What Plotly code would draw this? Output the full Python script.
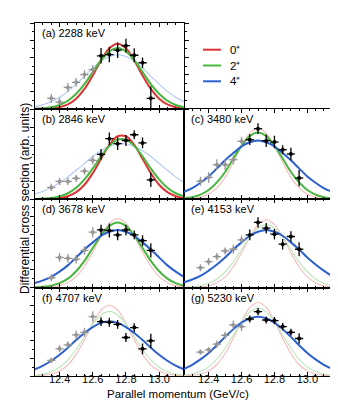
import plotly.graph_objects as go

# parallel momentum of the data bins (GeV/c)
p_data = [12.35, 12.40, 12.45, 12.50, 12.55, 12.60, 12.65,
          12.70, 12.75, 12.80, 12.85, 12.90, 12.95]
n_gray = 6  # first bins drawn in grey

# momentum grid of the calculated distributions
p_curve = [12.25, 12.30, 12.35, 12.40, 12.45, 12.50, 12.55, 12.60, 12.65, 12.70,
           12.75, 12.80, 12.85, 12.90, 12.95, 13.00, 13.05, 13.10, 13.15]

labels = ['(a) 2288 keV', '(b) 2846 keV', '(c) 3480 keV', '(d) 3678 keV',
          '(e) 4153 keV', '(f) 4707 keV', '(g) 5230 keV']
legend_names = ['0⁺', '2⁺', '4⁺']

# measured cross sections (arb. units) and errors
y_a = [0.124, 0.080, 0.251, 0.310, 0.400, 0.459, 0.618, 0.633, 0.684, 0.736, 0.625, 0.538, 0.124]
e_a = [0.05, 0.05, 0.05, 0.05, 0.05, 0.05, 0.09, 0.09, 0.09, 0.08, 0.08, 0.06, 0.14]
y_b = [0.129, 0.195, 0.195, 0.230, 0.310, 0.430, 0.495, 0.670, 0.615, 0.650, 0.714, 0.623, 0.212]
e_b = [0.04, 0.04, 0.04, 0.04, 0.04, 0.05, 0.06, 0.07, 0.07, 0.06, 0.05, 0.06, 0.08]
y_c = [0.197, 0.241, 0.381, 0.381, 0.437, 0.641, 0.659, 0.781, 0.648, 0.633, 0.548, 0.500, 0.233]
e_c = [0.05, 0.06, 0.06, 0.06, 0.05, 0.05, 0.06, 0.06, 0.07, 0.07, 0.05, 0.07, 0.09]
y_d = [0.110, 0.340, 0.330, 0.320, 0.420, 0.625, 0.650, 0.644, 0.594, 0.650, 0.594, 0.530, 0.420]
e_d = [0.04, 0.05, 0.05, 0.05, 0.05, 0.06, 0.06, 0.08, 0.06, 0.06, 0.05, 0.06, 0.08]
y_e = [0.224, 0.292, 0.349, 0.413, 0.432, 0.538, 0.594, 0.735, 0.670, 0.602, 0.489, 0.576, 0.432]
e_e = [0.04, 0.04, 0.04, 0.04, 0.05, 0.05, 0.06, 0.06, 0.06, 0.06, 0.06, 0.06, 0.08]
y_f = [0.176, 0.307, 0.352, 0.464, 0.494, 0.671, 0.615, 0.607, 0.584, 0.435, 0.547, 0.307, 0.397]
e_f = [0.03, 0.04, 0.04, 0.05, 0.05, 0.06, 0.05, 0.05, 0.05, 0.05, 0.05, 0.06, 0.08]
y_g = [0.270, 0.296, 0.360, 0.460, 0.576, 0.558, 0.644, 0.727, 0.633, 0.626, 0.558, 0.494, 0.424]
e_g = [0.03, 0.03, 0.04, 0.04, 0.05, 0.05, 0.04, 0.04, 0.04, 0.04, 0.04, 0.04, 0.06]

# calculated distributions for 0+, 2+, 4+
l0_a = [0, .002, .007, .02, .053, .12, .233, .39, .565, .707, .76, .707, .565, .39, .233, .12, .053, .02, .007]
l2_a = [.003, .008, .02, .047, .096, .178, .29, .43, .568, .67, .71, .67, .568, .43, .29, .178, .096, .047, .02]
l4_a = [.028, .05, .085, .136, .205, .289, .382, .476, .556, .61, .63, .61, .556, .476, .382, .289, .205, .136, .085]

l0_b = [0, .001, .004, .011, .031, .076, .158, .287, .447, .601, .697, .697, .601, .447, .287, .158, .076, .031, .011]
l2_b = [.001, .005, .012, .029, .064, .125, .218, .339, .474, .59, .66, .66, .59, .474, .339, .218, .125, .064, .029]
l4_b = [.056, .087, .129, .181, .246, .319, .396, .472, .537, .585, .612, .612, .585, .537, .472, .396, .319, .246, .181]

l0_c = [.002, .007, .02, .055, .124, .24, .41, .59, .73, .79, .73, .59, .41, .24, .124, .055, .02, .007, .002]
l2_c = [.008, .021, .049, .10, .185, .30, .45, .59, .70, .74, .70, .59, .45, .30, .185, .10, .049, .021, .008]
l4_c = [.08, .12, .18, .25, .34, .43, .51, .585, .63, .65, .63, .585, .51, .43, .34, .25, .18, .12, .08]

l0_d = [0, .002, .007, .021, .055, .122, .24, .40, .58, .725, .78, .725, .58, .40, .24, .122, .055, .021, .007]
l2_d = [.003, .008, .021, .049, .10, .184, .30, .446, .588, .695, .735, .695, .588, .446, .30, .184, .10, .049, .021]
l4_d = [.05, .08, .12, .18, .25, .34, .43, .51, .585, .63, .65, .63, .585, .51, .43, .34, .25, .18, .12]

l0_e = [0, .002, .007, .02, .054, .12, .234, .393, .57, .71, .765, .71, .57, .393, .234, .12, .054, .02, .007]
l2_e = [.003, .008, .02, .047, .096, .178, .29, .43, .57, .67, .71, .67, .57, .43, .29, .178, .096, .047, .02]
l4_e = [.06, .09, .13, .19, .26, .34, .43, .51, .585, .63, .65, .63, .585, .51, .43, .34, .26, .19, .13]

l0_f = [.002, .007, .022, .056, .126, .245, .41, .595, .745, .80, .745, .595, .41, .245, .126, .056, .022, .007, .002]
l2_f = [.008, .021, .048, .099, .183, .30, .443, .584, .69, .73, .69, .584, .443, .30, .183, .099, .048, .021, .008]
l4_f = [.074, .117, .172, .24, .32, .406, .486, .553, .60, .615, .60, .553, .486, .406, .32, .24, .172, .117, .074]

l0_g = [.002, .007, .022, .058, .13, .254, .427, .618, .772, .83, .772, .618, .427, .254, .13, .058, .022, .007, .002]
l2_g = [.008, .022, .05, .103, .191, .314, .464, .612, .724, .765, .724, .612, .464, .314, .191, .103, .05, .022, .008]
l4_g = [.08, .127, .188, .261, .348, .442, .529, .603, .653, .67, .653, .603, .529, .442, .348, .261, .188, .127, .08]

RED, GREEN, BLUE = 'rgb(218,52,52)', 'rgb(72,182,62)', 'rgb(44,96,206)'
RED_L, GREEN_L, BLUE_L = 'rgb(244,188,188)', 'rgb(190,232,186)', 'rgb(176,200,242)'
GREY = 'rgb(150,150,150)'
FONT = 'Liberation Sans, Arial, sans-serif'

# panel: data, errors, curves, (bold flags 0+,2+,4+), row, col
panels = [
    (y_a, e_a, l0_a, l2_a, l4_a, (True, True, False), 0, 0),
    (y_b, e_b, l0_b, l2_b, l4_b, (True, True, False), 1, 0),
    (y_c, e_c, l0_c, l2_c, l4_c, (False, True, True), 1, 1),
    (y_d, e_d, l0_d, l2_d, l4_d, (False, True, True), 2, 0),
    (y_e, e_e, l0_e, l2_e, l4_e, (False, False, True), 2, 1),
    (y_f, e_f, l0_f, l2_f, l4_f, (False, False, True), 3, 0),
    (y_g, e_g, l0_g, l2_g, l4_g, (False, False, True), 3, 1),
]

W, H = 338, 400
col_px = [(26.7, 176), (176, 324)]
row_px = [(15, 101), (101, 191), (191, 279.5), (279.5, 368)]

fig = go.Figure()

for i, (yv, ev, c0, c2, c4, bold, row, col) in enumerate(panels):
    n = i + 1
    xa, ya = ('x', 'y') if n == 1 else ('x%d' % n, 'y%d' % n)

    curves = [(c0, RED, RED_L, bold[0]), (c2, GREEN, GREEN_L, bold[1]), (c4, BLUE, BLUE_L, bold[2])]
    # faint ones first, bold ones on top
    for cv, cb, cl, b in sorted(curves, key=lambda t: t[3]):
        fig.add_trace(go.Scatter(x=p_curve, y=cv, mode='lines', xaxis=xa, yaxis=ya,
                                 line=dict(color=cb if b else cl, width=2 if b else 1.1, shape='spline'),
                                 showlegend=False, hoverinfo='skip'))

    for sl, colr in ((slice(0, n_gray), GREY), (slice(n_gray, None), 'black')):
        fig.add_trace(go.Scatter(
            x=p_data[sl], y=yv[sl], mode='markers', xaxis=xa, yaxis=ya,
            marker=dict(color=colr, size=4),
            error_x=dict(type='constant', value=0.025, width=0, thickness=1.3, color=colr),
            error_y=dict(type='data', array=ev[sl], width=0, thickness=1.3, color=colr),
            showlegend=False))

    x0, x1 = col_px[col]
    t0, t1 = row_px[row]
    xd = [x0 / W, x1 / W]
    yd = [1 - t1 / H, 1 - t0 / H]
    bottom = row == 3
    fig.layout['xaxis' if n == 1 else 'xaxis%d' % n] = dict(
        domain=xd, anchor=ya, range=[12.25, 13.15], tick0=12.4, dtick=0.2, tickformat='.1f',
        showticklabels=bottom, ticks='inside', ticklen=4, tickwidth=1, tickcolor='black',
        ticklabelstandoff=-7,
        minor=dict(dtick=0.05, tick0=12.25, ticks='inside', ticklen=2, tickcolor='black'),
        showline=True, linecolor='black', linewidth=1, mirror='ticks',
        showgrid=False, zeroline=False,
        tickfont=dict(family=FONT, size=11, color='black'))
    fig.layout['yaxis' if n == 1 else 'yaxis%d' % n] = dict(
        domain=yd, anchor=xa, range=[0, 1], tick0=0, dtick=0.2,
        side='left' if col == 0 else 'right',
        showticklabels=False, ticks='outside', ticklen=4, tickcolor='black',
        minor=dict(dtick=0.1, ticks='outside', ticklen=2, tickcolor='black'),
        showline=True, linecolor='black', linewidth=1,
        mirror='ticks' if n == 1 else True,
        showgrid=False, zeroline=False)

    fig.add_annotation(text=labels[i], xref=xa + ' domain', yref=ya + ' domain',
                       x=0.035, y=1 - 10 / (t1 - t0), xanchor='left', yanchor='middle',
                       showarrow=False, font=dict(family=FONT, size=11, color='black'))

# legend drawn in the empty top-right cell
for k, (name, colr) in enumerate(zip(legend_names, (RED, GREEN, BLUE))):
    yk = 1 - (41.7 + 15.8 * k) / H
    fig.add_shape(type='line', xref='paper', yref='paper', x0=195 / W, x1=213 / W, y0=yk, y1=yk,
                  line=dict(color=colr, width=2))
    fig.add_annotation(text=name, xref='paper', yref='paper', x=220 / W, y=yk,
                       xanchor='left', yanchor='middle', showarrow=False,
                       font=dict(family=FONT, size=11.5, color='black'))

fig.add_annotation(text='Differential cross section (arb. units)', xref='paper', yref='paper',
                   x=8 / W, y=1 - 191 / H, textangle=-90, showarrow=False,
                   font=dict(family=FONT, size=12, color='black'))
fig.add_annotation(text='Parallel momentum (GeV/c)', xref='paper', yref='paper',
                   x=170 / W, y=1 - 393.5 / H, showarrow=False,
                   font=dict(family=FONT, size=11.5, color='black'))

fig.update_layout(
    width=W, height=H, margin=dict(l=0, r=0, t=0, b=0),
    paper_bgcolor='white', plot_bgcolor='white',
    showlegend=False,
)

fig.write_html('out.html')
